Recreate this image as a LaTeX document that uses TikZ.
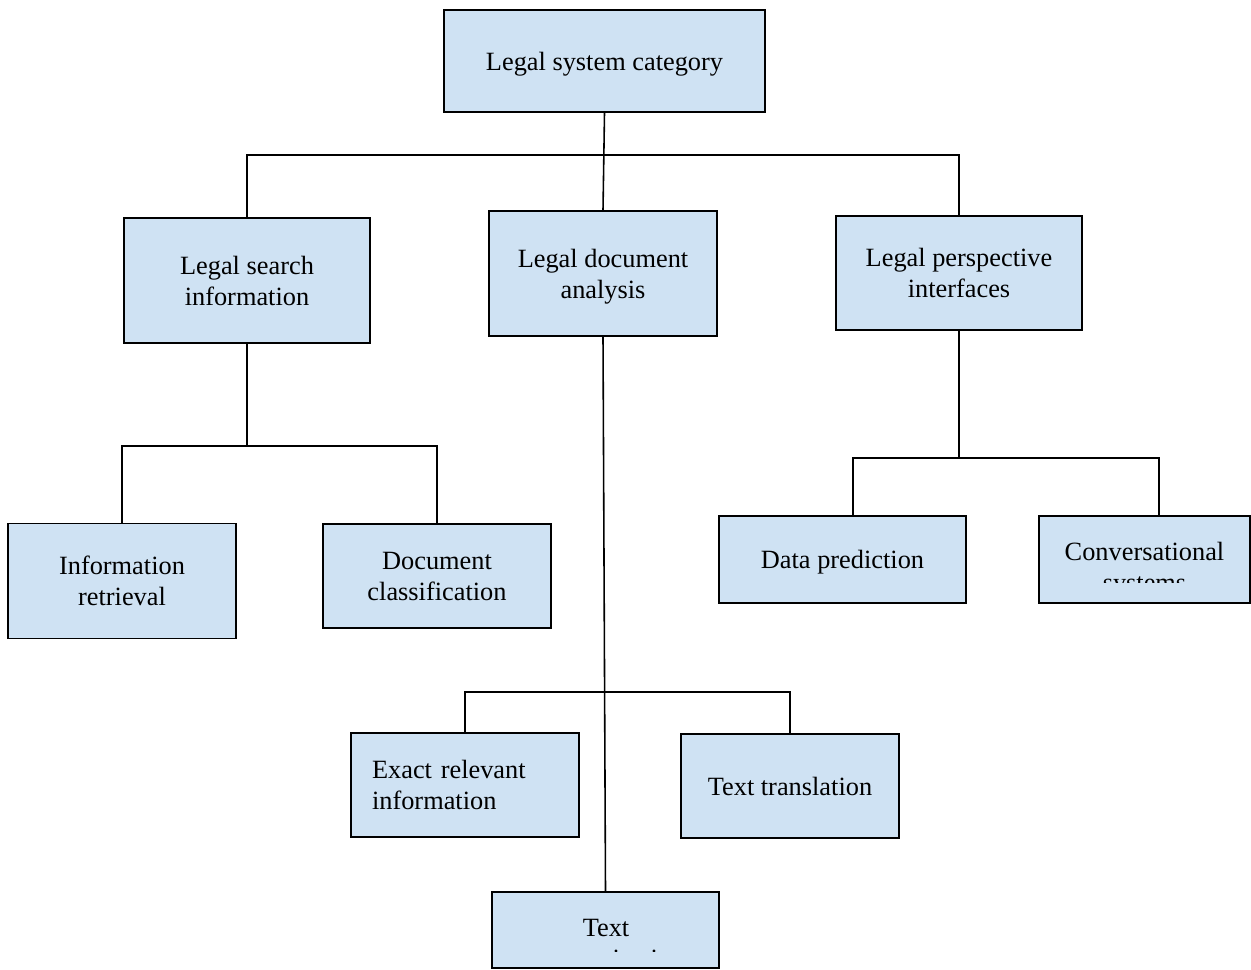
\documentclass[tikz,border=0pt]{standalone}
\usepackage{fontspec}
\setmainfont{Liberation Serif}
\usepackage{tikz}
\usetikzlibrary{positioning}

\definecolor{boxblue}{RGB}{207,226,243}
\tikzset{
    box/.style={draw, line width=1pt, fill=boxblue, align=center,
        font=\fontsize{15}{17.6}\selectfont, inner sep=0pt, text depth=0pt},
    boxtext/.style={font=\fontsize{15}{17.6}\selectfont, inner sep=0pt},
    link/.style={line width=0.9pt}
}

\begin{document}
\begin{tikzpicture}[x=0.02cm,y=-0.02cm]
    \useasboundingbox (0,0) rectangle (1251,970);
    % top
    \node[box, minimum width=6.42cm, minimum height=2.04cm] (cat) at (604.5,61) {Legal system category};
    % first level
    \node[box, minimum width=4.92cm, minimum height=2.5cm] (search) at (247,280.5) {Legal search\\information};
    \node[box, minimum width=4.56cm, minimum height=2.5cm] (docana) at (603,273.5) {Legal document\\analysis};
    \node[box, minimum width=4.92cm, minimum height=2.28cm] (persp) at (959,273) {Legal perspective\\interfaces};
    % second level
    \node[box, minimum width=4.56cm, minimum height=2.3cm] (inforet) at (122,581) {Information\\retrieval};
    \node[box, minimum width=4.56cm, minimum height=2.08cm] (docclass) at (437,576) {Document\\classification};
    \node[box, minimum width=4.94cm, minimum height=1.74cm] (datapred) at (842.5,559.5) {Data prediction};
    \node[box, minimum width=4.22cm, minimum height=1.74cm] (conv) at (1144.5,559.5) {};
    \node[box, minimum width=4.56cm, minimum height=2.08cm, align=left, text width=3.72cm, inner xsep=0.42cm, text depth=17.6pt] (exact) at (465,785) {Exact relevant\\information};
    \node[box, minimum width=4.36cm, minimum height=2.08cm] (transl) at (790,786) {Text translation};
    \node[box, minimum width=4.54cm, minimum height=1.52cm] (summ) at (605.5,930) {};
    % clipped texts
    \begin{scope}
        \clip (conv.north west) rectangle (1250,582);
        \node[boxtext, anchor=base] (convone) at (1144.5,560) {Conversational};
        \node[boxtext, anchor=base] (convtwo) at (1144.5,591) {systems};
    \end{scope}
    \begin{scope}
        \clip (summ.north west) rectangle (719,951.5);
        \node[boxtext, anchor=base] (sumone) at (606,936) {Text};
        \node[boxtext, anchor=base] (sumtwo) at (606,967) {summarization};
    \end{scope}
    % junctions
    \coordinate (b0) at (603,155);
    \coordinate (b1) at (247,446);
    \coordinate (b2) at (603,692);
    \coordinate (b3) at (959,458);
    \coordinate (b3l) at (853,458);
    \coordinate (b3r) at (1159,458);
    % connectors
    \draw[link] (cat.south) -- (docana.north);
    \draw[link] (search.north) -- (search.north |- b0) -- (persp.north |- b0) -- (persp.north);
    \draw[link] (search.south) -- (b1);
    \draw[link] (inforet.north) -- (inforet.north |- b1) -- (docclass.north |- b1) -- (docclass.north);
    \draw[link] (docana.south) -- (summ.north);
    \draw[link] (exact.north) -- (exact.north |- b2) -- (transl.north |- b2) -- (transl.north);
    \draw[link] (persp.south) -- (b3);
    \draw[link] (b3l |- datapred.north) -- (b3l) -- (b3r) -- (b3r |- conv.north);
\end{tikzpicture}
\end{document}
